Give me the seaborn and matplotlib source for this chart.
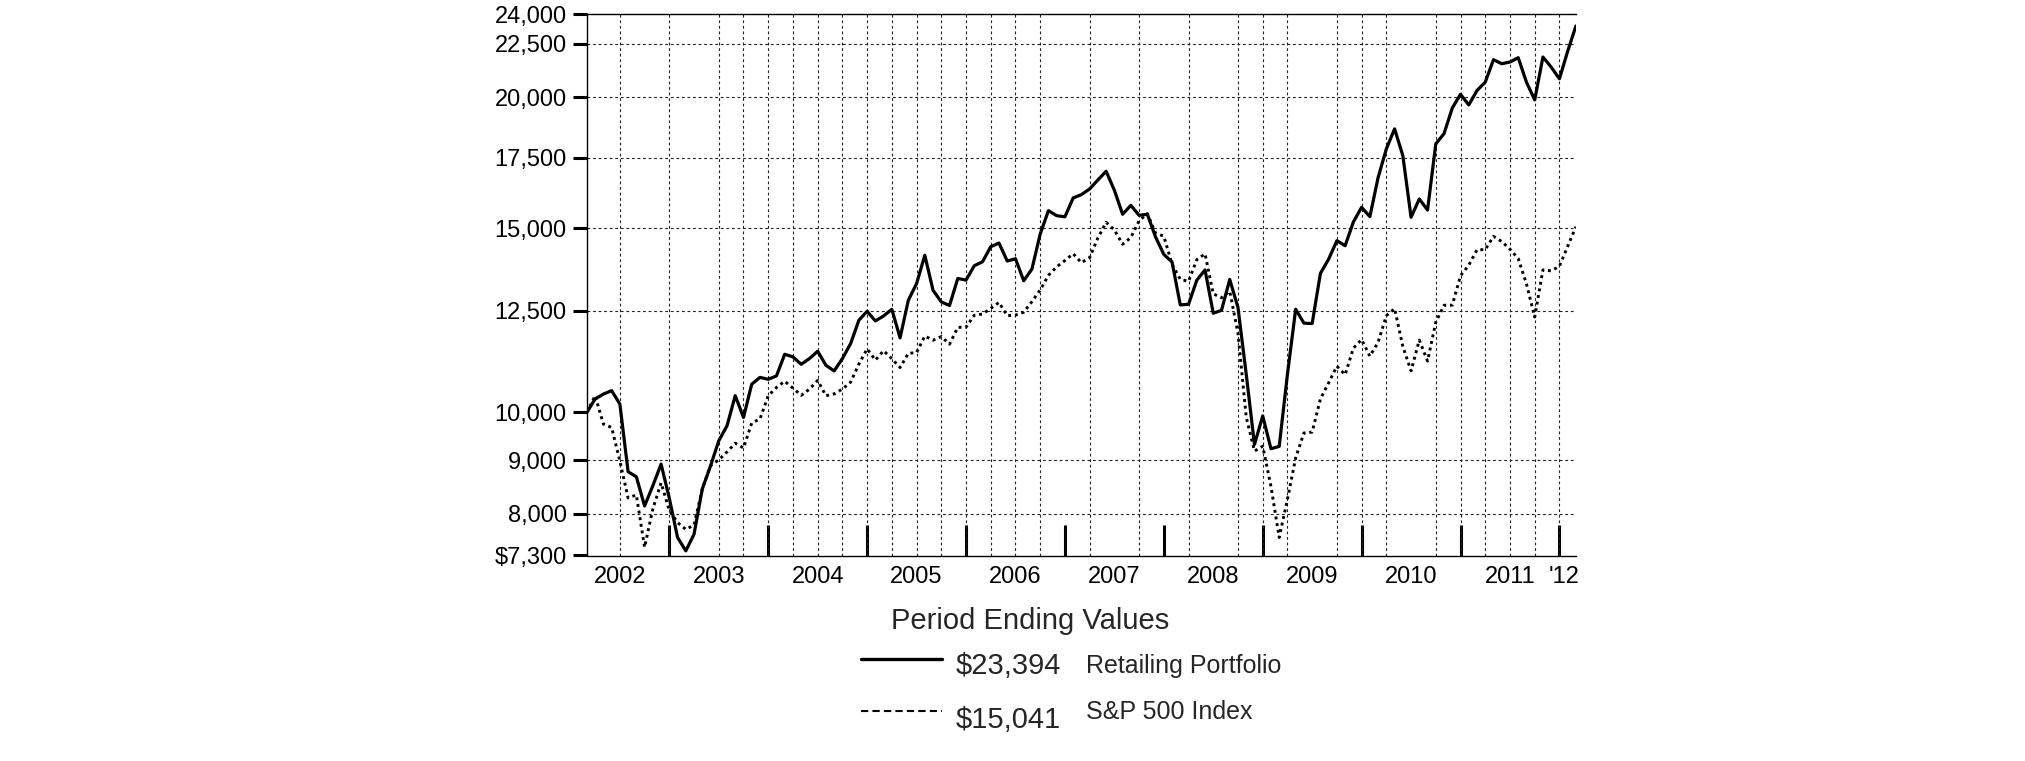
import numpy as np
import pandas as pd
import matplotlib.pyplot as plt
import matplotlib.ticker as mticker
from matplotlib.lines import Line2D
import seaborn as sns

# month-end values, Feb 2002 .. Feb 2012 (hypothetical $10,000 investment)
retail = [10000, 10300, 10410, 10490, 10185, 8776, 8680, 8140, 8510, 8925, 8280,
          7595, 7375, 7650, 8450, 8890, 9395, 9710, 10375, 9890, 10640, 10800, 10756,
          10835, 11364, 11298, 11116, 11256, 11439, 11092, 10955, 11256, 11634, 12246, 12490,
          12228, 12363, 12546, 11780, 12796, 13275, 14127, 13081, 12750, 12650, 13425, 13377,
          13806, 13927, 14396, 14512, 13950, 14020, 13358, 13706, 14804, 15584, 15413, 15375,
          16025, 16143, 16346, 16672, 16994, 16300, 15460, 15767, 15424, 15460, 14706, 14155,
          13918, 12666, 12685, 13373, 13680, 12436, 12518, 13396, 12592, 10873, 9318, 9922,
          9232, 9280, 10873, 12546, 12168, 12159, 13575, 14010, 14588, 14427, 15200, 15699,
          15379, 16759, 17851, 18654, 17591, 15357, 15990, 15606, 18050, 18460, 19530, 20127,
          19663, 20296, 20674, 21720, 21528, 21609, 21816, 20674, 19882, 21848, 21370, 20826,
          22124, 23394]
sp500 = [10000, 10376, 9747, 9675, 8986, 8285, 8340, 7433, 8087, 8564, 8060,
         7849, 7731, 7806, 8449, 8894, 9008, 9166, 9345, 9246, 9769, 9855, 10372,
         10563, 10710, 10548, 10382, 10524, 10728, 10373, 10415, 10527, 10688, 11121, 11499,
         11218, 11454, 11251, 11037, 11388, 11404, 11828, 11720, 11815, 11618, 12057, 12061,
         12381, 12414, 12568, 12737, 12370, 12387, 12464, 12760, 13089, 13516, 13773, 13966,
         14177, 13899, 14055, 14677, 15189, 14937, 14474, 14691, 15240, 15482, 14835, 14733,
         13849, 13399, 13341, 13991, 14173, 12978, 12869, 13056, 11893, 9896, 9185, 9283,
         8500, 7595, 8260, 9051, 9557, 9576, 10300, 10672, 11070, 10864, 11516, 11738,
         11315, 11666, 12369, 12565, 11561, 10956, 11724, 11195, 12194, 12657, 12658, 13504,
         13824, 14298, 14304, 14727, 14561, 14318, 14028, 13266, 12333, 13681, 13651, 13790,
         14407, 15041]

year_labels = ["2002", "2003", "2004", "2005", "2006", "2007", "2008", "2009", "2010", "2011", "'12"]
year_label_pos = [4, 16, 28, 40, 52, 64, 76, 88, 100, 112, 118.6]
year_ends = [10, 22, 34, 46, 58, 70, 82, 94, 106, 118]
grid_months = [4, 10, 16, 19, 22, 25, 28, 31, 34, 37, 40, 43, 46, 49, 52, 55, 61, 67,
               73, 79, 82, 85, 91, 94, 97, 103, 106, 109, 112, 115, 118]

y_ticks = [7300, 8000, 9000, 10000, 12500, 15000, 17500, 20000, 22500, 24000]
y_labels = ["$7,300", "8,000", "9,000", "10,000", "12,500", "15,000", "17,500",
            "20,000", "22,500", "24,000"]
y_grid = [8000, 9000, 12500, 15000, 17500, 20000, 22500]

legend_values = ["$23,394", "$15,041"]
legend_names = ["Retailing Portfolio", "S&P 500 Index"]

df = pd.DataFrame({"month": np.arange(len(retail)), "retail": retail, "sp500": sp500})

sns.set_style("white")
plt.rcParams['font.family'] = ['Liberation Sans', 'DejaVu Sans']

W, H = 2025, 761
fig = plt.figure(figsize=(W / 100, H / 100), dpi=100)
ax = fig.add_axes([586.9 / W, 1 - 555.5 / H, 989 / W, 541.2 / H])

for m in grid_months:
    ax.axvline(m, color="#222222", lw=0.8, ls=(0, (2.5, 2.5)), zorder=1)
for v in y_grid:
    ax.axhline(v, color="#222222", lw=0.8, ls=(0, (2.5, 2.5)), zorder=1)

sns.lineplot(data=df, x="month", y="sp500", color="black", linewidth=2.1,
             linestyle=(0, (1, 1.3)), ax=ax, zorder=3)
sns.lineplot(data=df, x="month", y="retail", color="black", linewidth=2.3, ax=ax, zorder=4)

ax.set_yscale("log")
ax.set_xlim(0, 120)
ax.set_ylim(7300, 24000)
ax.yaxis.set_major_locator(mticker.FixedLocator(y_ticks))
ax.yaxis.set_major_formatter(mticker.FixedFormatter(y_labels))
ax.yaxis.set_minor_locator(mticker.NullLocator())
ax.tick_params(axis="y", which="major", direction="out", length=10, width=2.2,
               pad=4.5, labelsize=17, colors="black", left=True)

ax.set_xticks(year_label_pos)
ax.set_xticklabels(year_labels)
ax.set_xticks(year_ends, minor=True)
ax.tick_params(axis="x", which="major", length=0, pad=7.5, labelsize=17, colors="black")
ax.tick_params(axis="x", which="minor", direction="in", length=22, width=2.2,
               color="black", bottom=True)

ax.set_xlabel("")
ax.set_ylabel("")
ax.grid(False)
for side in ["left", "bottom", "top"]:
    ax.spines[side].set_color("black")
    ax.spines[side].set_linewidth(1.0)
ax.spines["right"].set_visible(False)

# legend block under the chart
fig.text(891 / W, 1 - 629 / H, "Period Ending Values", fontsize=21, va="baseline")
fig.add_artist(Line2D([861 / W, 942 / W], [1 - 659 / H] * 2, color="black", lw=2.4))
fig.add_artist(Line2D([861 / W, 942 / W], [1 - 711 / H] * 2, color="black", lw=1.5,
                      ls=(0, (3.5, 2))))
fig.text(956 / W, 1 - 674 / H, legend_values[0], fontsize=21, va="baseline")
fig.text(1086 / W, 1 - 673 / H, legend_names[0], fontsize=18, va="baseline")
fig.text(956 / W, 1 - 728 / H, legend_values[1], fontsize=21, va="baseline")
fig.text(1086 / W, 1 - 719 / H, legend_names[1], fontsize=18, va="baseline")

fig.savefig("out.png", dpi=100)
